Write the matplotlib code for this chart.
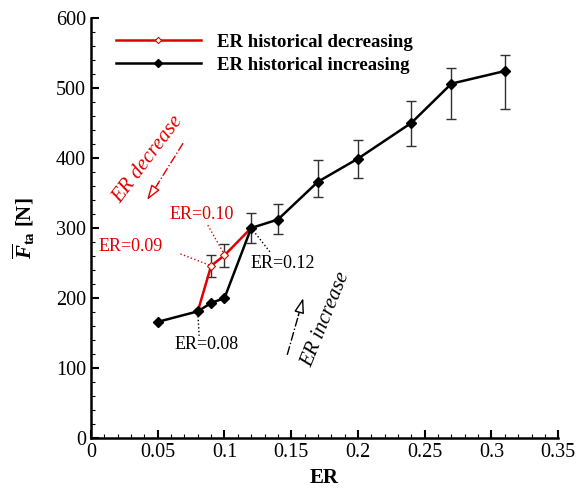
import matplotlib
matplotlib.use('Agg')
import matplotlib.pyplot as plt
from matplotlib.ticker import MultipleLocator

plt.rcParams['font.family'] = 'Liberation Serif'
plt.rcParams['mathtext.fontset'] = 'custom'
plt.rcParams['mathtext.rm'] = 'Liberation Serif'
plt.rcParams['mathtext.it'] = 'Liberation Serif:italic'
plt.rcParams['mathtext.bf'] = 'Liberation Serif:bold'
plt.rcParams['mathtext.bfit'] = 'Liberation Serif:bold:italic'

# ER increasing branch
er_inc = [0.05, 0.08, 0.09, 0.10, 0.12, 0.14, 0.17, 0.20, 0.24, 0.27, 0.31]
f_inc = [166, 181, 193, 200, 300, 312, 366, 399, 450, 506, 524]
err_lo_inc = [0, 0, 0, 0, 21, 20, 22, 28, 33, 51, 54]
err_hi_inc = [0, 0, 0, 0, 21, 22, 31, 27, 31, 22, 23]

# ER decreasing branch
er_dec = [0.08, 0.09, 0.10, 0.12]
f_dec = [181, 246, 261, 300]
err_dec = [0, 16, 16, 0]

red = '#e00000'

fig = plt.figure(figsize=(5.87, 4.94), dpi=100)
ax = fig.add_axes([0.155, 0.113, 0.796, 0.851])

# error bars first, lines on top
ax.errorbar(er_dec, f_dec, yerr=err_dec, fmt='none', ecolor='#303030',
            elinewidth=1.0, capsize=3.5, capthick=1.0, zorder=2)
ax.errorbar(er_inc, f_inc, yerr=[err_lo_inc, err_hi_inc], fmt='none', ecolor='#303030',
            elinewidth=1.0, capsize=3.5, capthick=1.0, zorder=2)
ax.plot(er_dec, f_dec, color=red, lw=1.8, marker='D', ms=4, mfc='white', mec=red,
        mew=0.8, zorder=3, label='ER historical decreasing')
ax.plot(er_inc, f_inc, color='black', lw=1.8, marker='D', ms=5, mfc='black', mec='black',
        zorder=4, label='ER historical increasing')

ax.set_xlim(0, 0.35)
ax.set_ylim(0, 600)
ax.xaxis.set_major_locator(MultipleLocator(0.05))
ax.xaxis.set_minor_locator(MultipleLocator(0.01))
ax.yaxis.set_major_locator(MultipleLocator(100))
ax.yaxis.set_minor_locator(MultipleLocator(20))
ax.set_xticks([0, 0.05, 0.1, 0.15, 0.2, 0.25, 0.3, 0.35])
ax.set_xticklabels(['0', '0.05', '0.1', '0.15', '0.2', '0.25', '0.3', '0.35'])
ax.tick_params(which='major', direction='in', length=6, width=1.5, labelsize=14.5)
ax.tick_params(which='minor', direction='in', length=3, width=0.8)
ax.spines['top'].set_visible(False)
ax.spines['right'].set_visible(False)
ax.spines['left'].set_linewidth(1.8)
ax.spines['bottom'].set_linewidth(1.8)

ax.set_xlabel('ER', fontsize=15, fontweight='bold')
ax.set_ylabel(r'$\overline{\boldsymbol{F}}_{\mathbf{ta}}$' + ' [N]', fontsize=15,
              fontweight='bold', labelpad=14)

ax.legend(loc='upper left', bbox_to_anchor=(0.054, 0.962), frameon=False,
          prop={'weight': 'bold', 'size': 13.5}, handlelength=4.5, handletextpad=0.85,
          borderaxespad=0, borderpad=0, labelspacing=0.3, markerscale=0.8)

# point labels with dotted leaders
ax.text(0.083, 319, 'ER=0.10', color=red, fontsize=13, ha='center', va='center')
ax.plot([0.0875, 0.100], [304, 262], ls=':', color=red, lw=1)
ax.text(0.030, 273, 'ER=0.09', color=red, fontsize=13, ha='center', va='center')
ax.plot([0.067, 0.090], [263, 246], ls=':', color=red, lw=1)
ax.text(0.144, 249, 'ER=0.12', color='black', fontsize=13, ha='center', va='center')
ax.plot([0.134, 0.120], [266, 300], ls=':', color='black', lw=1)
ax.text(0.0865, 134, 'ER=0.08', color='black', fontsize=13, ha='center', va='center')
ax.plot([0.081, 0.080], [146, 181], ls=':', color='black', lw=1)

# direction hints
ax.text(0.043, 397, 'ER decrease', color=red, fontsize=15, style='italic',
        rotation=53, ha='center', va='center')
ax.plot([0.069, 0.0500], [421, 363], ls='-.', color=red, lw=1)
ax.annotate('', xy=(0.042, 340), xytext=(0.0505, 364),
            arrowprops=dict(arrowstyle='-|>,head_length=0.9,head_width=0.3',
                            fc='white', ec=red, lw=1, shrinkA=0, shrinkB=0))

ax.text(0.176, 169, 'ER increase', color='black', fontsize=15, style='italic',
        rotation=68, ha='center', va='center')
ax.plot([0.147, 0.1555], [119, 176], ls='-.', color='black', lw=1)
ax.annotate('', xy=(0.159, 200), xytext=(0.1553, 175),
            arrowprops=dict(arrowstyle='-|>,head_length=0.9,head_width=0.3',
                            fc='white', ec='black', lw=1, shrinkA=0, shrinkB=0))

fig.savefig('out.png', dpi=100)
